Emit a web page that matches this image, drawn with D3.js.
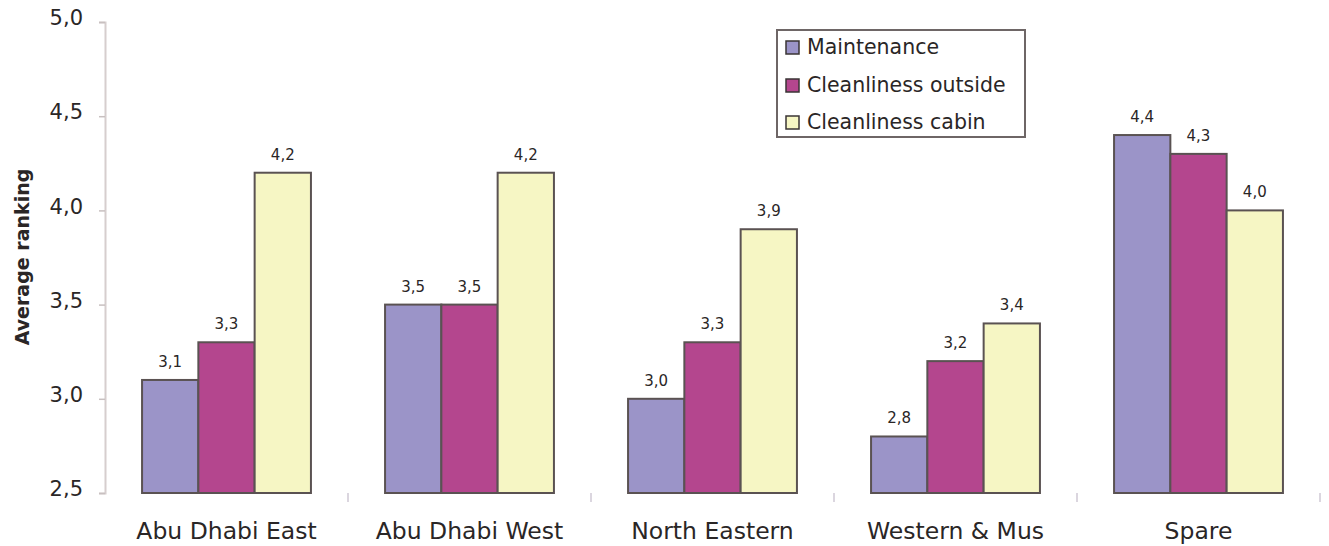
<!DOCTYPE html>
<html>
<head>
<meta charset="utf-8">
<script src="https://cdn.jsdelivr.net/npm/d3@7"></script>
<style>
  html, body { margin: 0; padding: 0; background: #ffffff; }
  svg { display: block; }
  text { font-family: "DejaVu Sans", Verdana, sans-serif; fill: #2a2626; }
</style>
</head>
<body>
<svg id="chart" width="1329" height="546"></svg>
<script>
// ---- data ----
const categories = ["Abu Dhabi East", "Abu Dhabi West", "North Eastern", "Western & Mus", "Spare"];
const seriesNames = ["Maintenance", "Cleanliness outside", "Cleanliness cabin"];
const maintenance = [3.1, 3.5, 3.0, 2.8, 4.4];
const cleanOutside = [3.3, 3.5, 3.3, 3.2, 4.3];
const cleanCabin = [4.2, 4.2, 3.9, 3.4, 4.0];
const yTicks = [2.5, 3.0, 3.5, 4.0, 4.5, 5.0];
const yTitle = "Average ranking";

(function () {
const seriesValues = [maintenance, cleanOutside, cleanCabin];
const colors = ["#9b94c8", "#b4468e", "#f6f6c4"];

const fmt = v => v.toFixed(1).replace(".", ",");

const svg = d3.select("#chart");
const plotLeft = 105, plotRight = 1320, plotTop = 22, plotBottom = 493;

const x0 = d3.scaleBand().domain(categories).range([plotLeft, plotRight])
  .paddingInner(0.305).paddingOuter(0.1525);
const x1 = d3.scaleBand().domain(seriesNames).range([0, x0.bandwidth()]).padding(0);
const y = d3.scaleLinear().domain([2.5, 5.0]).range([plotBottom, plotTop]);

// y axis
const yAxis = svg.append("g").attr("transform", `translate(${plotLeft},0)`)
  .call(d3.axisLeft(y).tickValues(yTicks).tickSize(6).tickFormat(fmt));
yAxis.select(".domain").attr("stroke", "#d6cece").attr("stroke-width", 2);
yAxis.selectAll(".tick line").attr("stroke", "#c8c0c0").attr("stroke-width", 1.5);
yAxis.selectAll(".tick text")
  .attr("x", -22).attr("dy", "0.32em").attr("y", -4)
  .style("font-size", "21px").style("font-family", "DejaVu Sans").attr("fill", "#2a2626");

// x axis boundary ticks (no axis line)
const boundaries = categories.map((c, i) => plotLeft + (i + 1) * x0.step());
svg.append("g").selectAll("line").data(boundaries).join("line")
  .attr("x1", d => d).attr("x2", d => d)
  .attr("y1", plotBottom).attr("y2", plotBottom + 9)
  .attr("stroke", "#cfc8d4").attr("stroke-width", 1.5);

// x labels
svg.append("g").selectAll("text").data(categories).join("text")
  .attr("x", d => x0(d) + x0.bandwidth() / 2)
  .attr("y", 539)
  .attr("text-anchor", "middle")
  .style("font-size", "23.5px")
  .text(d => d);

// bars
const groups = svg.append("g").selectAll("g").data(categories).join("g")
  .attr("transform", d => `translate(${x0(d)},0)`);

groups.selectAll("rect")
  .data((d, i) => seriesNames.map((s, j) => ({ s, j, v: seriesValues[j][i] })))
  .join("rect")
  .attr("x", d => x1(d.s))
  .attr("y", d => y(d.v))
  .attr("width", x1.bandwidth())
  .attr("height", d => y(2.5) - y(d.v))
  .attr("fill", d => colors[d.j])
  .attr("stroke", "#5a5252")
  .attr("stroke-width", 2);

// value labels
groups.selectAll("text.val")
  .data((d, i) => seriesNames.map((s, j) => ({ s, j, v: seriesValues[j][i] })))
  .join("text")
  .attr("class", "val")
  .attr("x", d => x1(d.s) + x1.bandwidth() / 2)
  .attr("y", d => y(d.v) - 13)
  .attr("text-anchor", "middle")
  .style("font-size", "15px")
  .text(d => fmt(d.v));

// y title
svg.append("text")
  .attr("transform", "translate(22,257) rotate(-90)")
  .attr("text-anchor", "middle")
  .attr("dominant-baseline", "central")
  .style("font-size", "19px")
  .style("font-weight", "bold")
  .attr("fill", "#111")
  .text(yTitle);

// legend
const lg = svg.append("g");
lg.append("rect").attr("x", 777).attr("y", 30).attr("width", 248).attr("height", 107)
  .attr("fill", "#fff").attr("stroke", "#6e6666").attr("stroke-width", 2);
const legendY = [47, 85, 122];
const items = lg.selectAll("g").data(seriesNames).join("g")
  .attr("transform", (d, i) => `translate(786,${legendY[i]})`);
items.append("rect").attr("x", 0).attr("y", -6).attr("width", 13).attr("height", 13)
  .attr("fill", (d, i) => colors[i]).attr("stroke", "#3a3434").attr("stroke-width", 1.5);
items.append("text").attr("x", 21).attr("y", 0).attr("dy", "0.35em")
  .style("font-size", "20.5px").text(d => d);
})();
</script>
</body>
</html>
